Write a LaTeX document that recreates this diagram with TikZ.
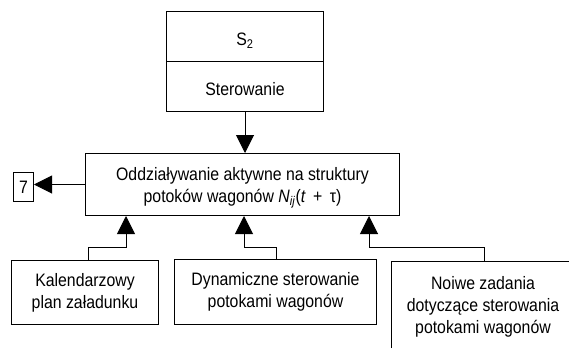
\documentclass[tikz,border=0pt]{standalone}
\usepackage{fontspec}
\setmainfont{Liberation Sans}[FakeStretch=0.88]
\usetikzlibrary{arrows.meta}
\begin{document}
\begin{tikzpicture}[x=1pt,y=-1pt,
  line width=1pt,
  txt/.style={inner sep=0pt, align=center, font=\fontsize{18}{22}\selectfont},
  box/.style={draw, inner sep=0pt, anchor=north west},
  arr/.style={-{Triangle[length=18pt,width=18pt]}}]
\useasboundingbox (0,0) rectangle (569,348);

% controlling unit
\node[box, minimum width=157pt, minimum height=50pt] (s2) at (166,11) {};
\node[box, minimum width=157pt, minimum height=50pt] (ster) at (166,61) {};
\node[txt] (s2t) at ([yshift=-4pt]s2.center) {S\textsubscript{2}};
\node[txt] (stert) at ([yshift=-3pt]ster.center) {Sterowanie};

% central block
\node[box, minimum width=314pt, minimum height=62pt] (main) at (85,153) {};
\node[txt] (maint) at ([yshift=-3pt]main.center)
  {Oddziaływanie aktywne na struktury\\potoków wagonów \textit{N}\textsubscript{\textit{ij}}(\textit{t}\,~+~\,τ)};
\node[box, minimum width=20pt, minimum height=29pt] (b7) at (13,172) {};
\node[txt] (b7t) at (b7.center) {7};

% inputs
\node[box, minimum width=147pt, minimum height=64pt] (b1) at (11,260) {};
\node[txt] (b1t) at (b1.center) {Kalendarzowy\\plan załadunku};
\node[box, minimum width=202pt, minimum height=65pt] (b2) at (174,259) {};
\node[txt] (b2t) at (b2.center) {Dynamiczne sterowanie\\potokami wagonów};
\draw (391,348) |- (569,261);
\node[txt] (b3) at (483,307) {Noiwe zadania\\dotyczące sterowania\\potokami wagonów};

% connectors
\coordinate (k1) at (88,247);
\coordinate (k2) at (276,247);
\coordinate (k3) at (484,261);
\coordinate (u1) at (126,247);
\coordinate (u2) at (244,247);
\coordinate (u3) at (369,247);

\draw[arr] (ster.south) -- (ster.south |- main.north);
\draw[arr] (main.west) -- (b7.east |- main.west);
\draw[arr] (b1.north -| k1) -- (k1) -- (u1) -- (main.south -| u1);
\draw[arr] (b2.north -| k2) -- (k2) -- (u2) -- (main.south -| u2);
\draw[arr] (k3) |- (u3) -- (main.south -| u3);
\end{tikzpicture}
\end{document}
